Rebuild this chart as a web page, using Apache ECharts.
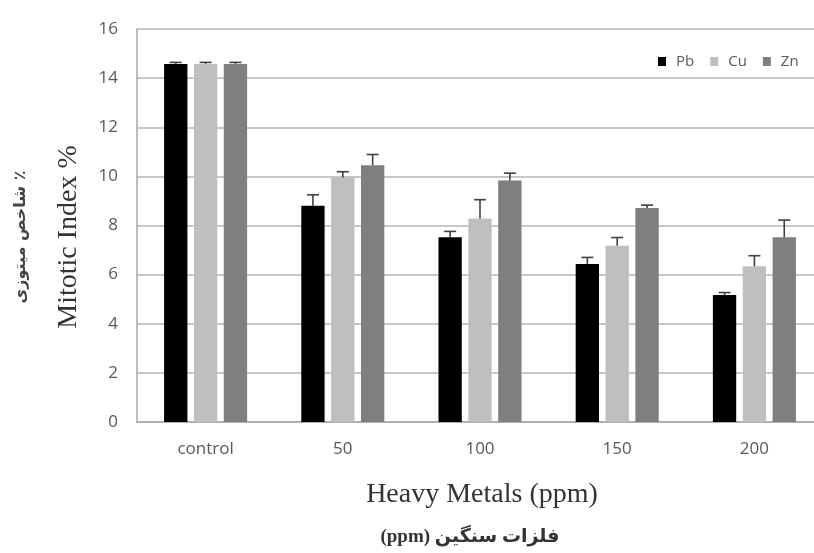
<!DOCTYPE html>
<html>
<head>
<meta charset="utf-8">
<script src="https://cdn.jsdelivr.net/npm/echarts@6/dist/echarts.min.js"></script>
<style>html,body{margin:0;padding:0;background:#fff;}#c{width:814px;height:553px;}</style>
</head>
<body>
<div id="c"></div>
<script>
var categories = ['control', '50', '100', '150', '200'];
var pb = [14.58, 8.80, 7.52, 6.43, 5.17];
var cu = [14.58, 9.95, 8.29, 7.18, 6.34];
var zn = [14.58, 10.45, 9.83, 8.71, 7.52];
var pbErr = [0.06, 0.45, 0.24, 0.27, 0.10];
var cuErr = [0.06, 0.24, 0.76, 0.33, 0.43];
var znErr = [0.06, 0.44, 0.30, 0.12, 0.70];
var yTicks = [0, 2, 4, 6, 8, 10, 12, 14, 16];

var BW = 0.17, GAP = 0.28;
function errRender(idx) {
  return function (params, api) {
    var cat = api.value(0), val = api.value(1), err = api.value(2);
    var base = api.coord([cat, val]);
    var top = api.coord([cat, val + err]);
    var band = api.size([1, 0])[0];
    var x = base[0] + idx * band * BW * (1 + GAP);
    var cap = 6;
    var st = { stroke: '#404040', lineWidth: 1.6 };
    return { type: 'group', children: [
      { type: 'line', shape: { x1: x, y1: base[1], x2: x, y2: top[1] }, style: st },
      { type: 'line', shape: { x1: x - cap, y1: top[1], x2: x + cap, y2: top[1] }, style: st }
    ]};
  };
}
function errData(vals, errs) { return categories.map(function (c, i) { return [i, vals[i], errs[i]]; }); }

var chart = echarts.init(document.getElementById('c'));
chart.setOption({
  backgroundColor: '#fff',
  animation: false,
  grid: { left: 137, top: 29, width: 686, height: 393, outerBoundsMode: 'none', containLabel: false },
  legend: {
    data: ['Pb', 'Cu', 'Zn'], left: 653, top: 49, icon: 'rect',
    itemWidth: 8, itemHeight: 9, itemGap: 16,
    textStyle: { color: '#595959', fontSize: 15, fontFamily: 'Open Sans', padding: [0, 0, 0, 5] }
  },
  xAxis: {
    type: 'category', data: categories,
    axisLine: { lineStyle: { color: '#a6a6a6', width: 1.5 } },
    axisTick: { show: false },
    axisLabel: { color: '#595959', fontSize: 17, fontFamily: 'Open Sans', margin: 19 }
  },
  yAxis: {
    type: 'value', min: 0, max: 16, interval: 2,
    axisLine: { show: true, lineStyle: { color: '#a6a6a6', width: 1.5 } },
    axisTick: { show: false },
    splitLine: { lineStyle: { color: '#b4b4b4', width: 1.6 } },
    axisLabel: { color: '#595959', fontSize: 17, fontFamily: 'Open Sans', margin: 19,
      formatter: function (v) { return yTicks.indexOf(v) >= 0 ? String(v) : ''; } }
  },
  series: [
    { name: 'Pb', type: 'bar', data: pb, barWidth: '17%', barGap: '28%', itemStyle: { color: '#000000' } },
    { name: 'Cu', type: 'bar', data: cu, barWidth: '17%', barGap: '28%', itemStyle: { color: '#bfbfbf' } },
    { name: 'Zn', type: 'bar', data: zn, barWidth: '17%', barGap: '28%', itemStyle: { color: '#7f7f7f' } },
    { type: 'custom', renderItem: errRender(-1), data: errData(pb, pbErr), encode: { x: 0, y: 1 }, z: 5 },
    { type: 'custom', renderItem: errRender(0), data: errData(cu, cuErr), encode: { x: 0, y: 1 }, z: 5 },
    { type: 'custom', renderItem: errRender(1), data: errData(zn, znErr), encode: { x: 0, y: 1 }, z: 5 }
  ],
  graphic: [
    { type: 'text', x: 69, y: 237, rotation: Math.PI / 2,
      style: { text: 'Mitotic Index %', fontSize: 28, fontFamily: 'Liberation Serif', fill: '#333', align: 'center', verticalAlign: 'middle' } },
    { type: 'text', x: 21, y: 237, rotation: Math.PI / 2,
      style: { text: 'شاخص میتوزی ٪', fontSize: 16, fontWeight: 'bold', fontFamily: 'DejaVu Sans', fill: '#444', align: 'center', verticalAlign: 'middle' } },
    { type: 'text', x: 482, y: 495,
      style: { text: 'Heavy Metals (ppm)', fontSize: 28, fontFamily: 'Liberation Serif', fill: '#333', align: 'center', verticalAlign: 'middle' } },
    { type: 'text', x: 470, y: 537,
      style: { text: '(ppm) فلزات سنگین', fontSize: 19, fontWeight: 'bold', fontFamily: 'Liberation Serif, DejaVu Sans', fill: '#333', align: 'center', verticalAlign: 'middle' } }
  ]
});
</script>
</body>
</html>
